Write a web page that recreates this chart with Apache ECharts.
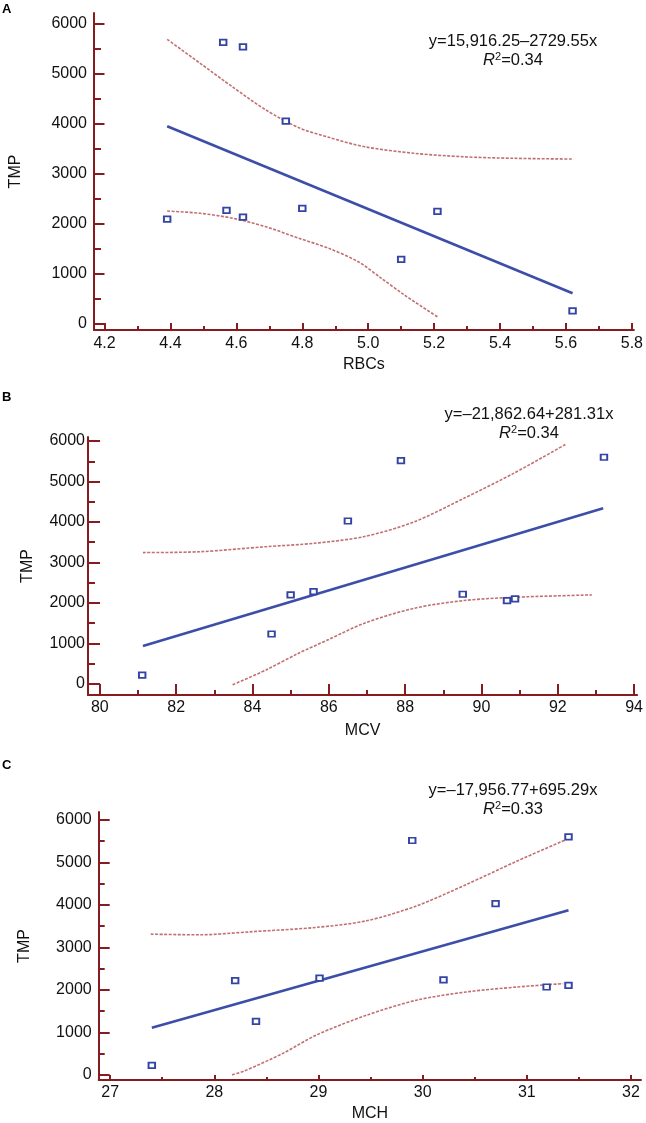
<!DOCTYPE html>
<html><head><meta charset="utf-8">
<script src="https://cdn.jsdelivr.net/npm/echarts@6/dist/echarts.min.js"></script>
<style>html,body{margin:0;padding:0;background:#fff}#c{width:646px;height:1123px}</style>
</head><body><div id="c"></div>
<script>
// ---------- data ----------
const panelLetters = ['A', 'B', 'C'];
const xNames = ['RBCs', 'MCV', 'MCH'];
const yName = 'TMP';
const equations = ['y=15,916.25\u20132729.55x', 'y=\u201321,862.64+281.31x', 'y=\u201317,956.77+695.29x'];
const r2Values = ['0.34', '0.34', '0.33'];

const yTickValues = [0, 1000, 2000, 3000, 4000, 5000, 6000];
const yMinorValues = [500, 1500, 2500, 3500, 4500, 5500];
const xTicksA = [4.2, 4.4, 4.6, 4.8, 5.0, 5.2, 5.4, 5.6, 5.8];
const xMinorA = [4.3, 4.5, 4.7, 4.9, 5.1, 5.3, 5.5, 5.7];
const xTicksB = [80, 82, 84, 86, 88, 90, 92, 94];
const xMinorB = [81, 83, 85, 87, 89, 91, 93];
const xTicksC = [27, 28, 29, 30, 31, 32];
const xMinorC = [27.5, 28.5, 29.5, 30.5, 31.5];

const pointsA = [[4.39, 2085], [4.56, 5620], [4.62, 5530], [4.57, 2260], [4.62, 2125], [4.75, 4045], [4.80, 2300], [5.21, 2240], [5.10, 1280], [5.62, 250]];
const fitA = [[4.39, 3940], [5.62, 600]];
const upperA = [[4.39, 5680], [4.49, 5200], [4.59, 4720], [4.69, 4265], [4.79, 3910], [4.88, 3720], [4.99, 3530], [5.14, 3400], [5.29, 3330], [5.44, 3300], [5.62, 3285]];
const lowerA = [[4.39, 2245], [4.49, 2200], [4.59, 2100], [4.69, 1930], [4.79, 1700], [4.88, 1500], [4.97, 1230], [5.04, 900], [5.11, 565], [5.21, 130]];

const pointsB = [[81.11, 220], [84.50, 1235], [85.0, 2200], [85.6, 2280], [86.5, 4025], [87.89, 5515], [89.51, 2215], [90.67, 2060], [90.88, 2100], [93.21, 5600]];
const fitB = [[81.13, 940], [93.19, 4340]];
const upperB = [[81.13, 3245], [82.61, 3265], [84.35, 3390], [85.63, 3475], [86.93, 3640], [88.24, 4005], [89.54, 4585], [90.84, 5200], [92.22, 5925]];
const lowerB = [[83.48, -20], [84.35, 345], [85.21, 760], [86.0, 1100], [86.93, 1500], [88.24, 1870], [89.54, 2060], [90.84, 2140], [92.89, 2200]];

const pointsC = [[27.40, 220], [28.20, 2215], [28.40, 1255], [29.01, 2275], [29.90, 5515], [30.20, 2235], [30.70, 4030], [31.19, 2065], [31.40, 2105], [31.40, 5600]];
const fitC = [[27.40, 1105], [31.40, 3875]];
const upperC = [[27.39, 3310], [27.86, 3295], [28.34, 3365], [28.98, 3470], [29.46, 3625], [29.94, 3975], [30.42, 4480], [30.90, 5025], [31.39, 5550]];
const lowerC = [[28.17, 0], [28.28, 80], [28.66, 505], [28.98, 935], [29.46, 1400], [29.94, 1755], [30.42, 1950], [30.90, 2065], [31.35, 2145]];

// ---------- layout / style ----------
const FONT = '"Liberation Sans", Arial, Helvetica, sans-serif';
const AXIS_COLOR = '#861c20';
const TEXT_COLOR = '#111111';
const TICK_FS = 16;
const EQ_FS = 16.5;
const panels = [
  { grid: { left: 92.5, top: 13, width: 544.5, height: 317 }, xMin: 4.168, xMax: 5.806, yMin: -134, yMax: 6206,
    xTicks: xTicksA, xMinor: xMinorA, dec: 1, pts: pointsA, fit: fitA, up: upperA, lo: lowerA,
    yTick: 10.5, yMinorLen: 7, xTick: 7, xMinorLen: 4, yLabM: 7, xLabM: 6, xGap: 27, yGap: 70,
    letter: [2, 9.5], eq: [513, 41], r2: [513, 60] },
  { grid: { left: 88, top: 437, width: 552, height: 258 }, xMin: 79.69, xMax: 94.08, yMin: -272, yMax: 6099,
    xTicks: xTicksB, xMinor: xMinorB, dec: 0, pts: pointsB, fit: fitB, up: upperB, lo: lowerB,
    yTick: 12, yMinorLen: 7, xTick: 11, xMinorLen: 5, yLabM: 3, xLabM: 5, xGap: 28, yGap: 52,
    letter: [2, 397.5], eq: [529, 414], r2: [529, 433] },
  { grid: { left: 98.7, top: 812, width: 542.3, height: 270 }, xMin: 26.89, xMax: 32.096, yMin: -124, yMax: 6187,
    xTicks: xTicksC, xMinor: xMinorC, dec: 0, pts: pointsC, fit: fitC, up: upperC, lo: lowerC,
    yTick: 11, yMinorLen: 6, xTick: 5, xMinorLen: 3, yLabM: 7, xLabM: 5, xGap: 26, yGap: 66,
    letter: [2, 765], eq: [513, 790], r2: [513, 809] }
];

const grids = [], xAxes = [], yAxes = [], series = [], graphics = [];
panels.forEach((p, i) => {
  grids.push(Object.assign({ containLabel: false }, p.grid));
  const lineStyle = { color: AXIS_COLOR, width: 2 };
  xAxes.push({
    type: 'value', gridIndex: i, position: 'bottom', min: p.xMin, max: p.xMax,
    name: xNames[i], nameLocation: 'middle', nameGap: p.xGap,
    nameTextStyle: { fontFamily: FONT, fontSize: TICK_FS, color: TEXT_COLOR },
    axisLine: { show: true, onZero: false, lineStyle },
    axisTick: { show: true, inside: true, length: p.xTick, customValues: p.xTicks, lineStyle },
    axisLabel: { show: true, customValues: p.xTicks, margin: p.xLabM, fontFamily: FONT, fontSize: TICK_FS, color: TEXT_COLOR,
      formatter: v => Number(v).toFixed(p.dec) },
    splitLine: { show: false }
  });
  xAxes.push({
    type: 'value', gridIndex: i, position: 'bottom', min: p.xMin, max: p.xMax,
    axisLine: { show: false, onZero: false },
    axisTick: { show: true, inside: true, length: p.xMinorLen, customValues: p.xMinor, lineStyle },
    axisLabel: { show: false }, splitLine: { show: false }
  });
  yAxes.push({
    type: 'value', gridIndex: i, position: 'left', min: p.yMin, max: p.yMax,
    name: yName, nameLocation: 'middle', nameGap: p.yGap,
    nameTextStyle: { fontFamily: FONT, fontSize: TICK_FS, color: TEXT_COLOR },
    axisLine: { show: true, onZero: false, lineStyle },
    axisTick: { show: true, inside: true, length: p.yTick, customValues: yTickValues, lineStyle },
    axisLabel: { show: true, customValues: yTickValues, margin: p.yLabM, fontFamily: FONT, fontSize: TICK_FS, color: TEXT_COLOR,
      formatter: v => String(Math.round(v)) },
    splitLine: { show: false }
  });
  yAxes.push({
    type: 'value', gridIndex: i, position: 'left', min: p.yMin, max: p.yMax,
    axisLine: { show: false, onZero: false },
    axisTick: { show: true, inside: true, length: p.yMinorLen, customValues: yMinorValues, lineStyle },
    axisLabel: { show: false }, splitLine: { show: false }
  });
  const xi = i * 2, yi = i * 2;
  const curveStyle = { color: '#c26f70', width: 1.6, type: [3, 1.5] };
  series.push({ type: 'line', xAxisIndex: xi, yAxisIndex: yi, data: p.up, smooth: 0.3, symbol: 'none', lineStyle: curveStyle, z: 2 });
  series.push({ type: 'line', xAxisIndex: xi, yAxisIndex: yi, data: p.lo, smooth: 0.3, symbol: 'none', lineStyle: curveStyle, z: 2 });
  series.push({ type: 'line', xAxisIndex: xi, yAxisIndex: yi, data: p.fit, symbol: 'none', lineStyle: { color: '#3d4ea8', width: 2.6 }, z: 3 });
  series.push({ type: 'scatter', xAxisIndex: xi, yAxisIndex: yi, data: p.pts, symbol: 'rect', symbolSize: [6.5, 5.5],
    itemStyle: { color: '#ffffff', borderColor: '#3444a4', borderWidth: 1.8, opacity: 1 }, z: 4 });

  graphics.push({ type: 'text', x: p.letter[0], y: p.letter[1],
    style: { text: panelLetters[i], font: 'bold 13px ' + FONT, fill: '#000', textAlign: 'left', textVerticalAlign: 'middle' } });
  graphics.push({ type: 'text', x: p.eq[0], y: p.eq[1],
    style: { text: equations[i], font: EQ_FS + 'px ' + FONT, fill: TEXT_COLOR, textAlign: 'center', textVerticalAlign: 'middle' } });
  graphics.push({ type: 'text', x: p.r2[0], y: p.r2[1],
    style: { text: '{i|R}{s|2}{n|=' + r2Values[i] + '}', textAlign: 'center', textVerticalAlign: 'middle', fill: TEXT_COLOR,
      rich: {
        i: { fontFamily: FONT, fontSize: EQ_FS, fontStyle: 'italic', fill: TEXT_COLOR, color: TEXT_COLOR },
        s: { fontFamily: FONT, fontSize: 11, verticalAlign: 'top', fill: TEXT_COLOR, color: TEXT_COLOR },
        n: { fontFamily: FONT, fontSize: EQ_FS, fill: TEXT_COLOR, color: TEXT_COLOR }
      } } });
});

const chart = echarts.init(document.getElementById('c'), null, { renderer: 'canvas' });
chart.setOption({
  backgroundColor: '#ffffff',
  animation: false,
  grid: grids, xAxis: xAxes, yAxis: yAxes, series: series, graphic: graphics
});
</script></body></html>
